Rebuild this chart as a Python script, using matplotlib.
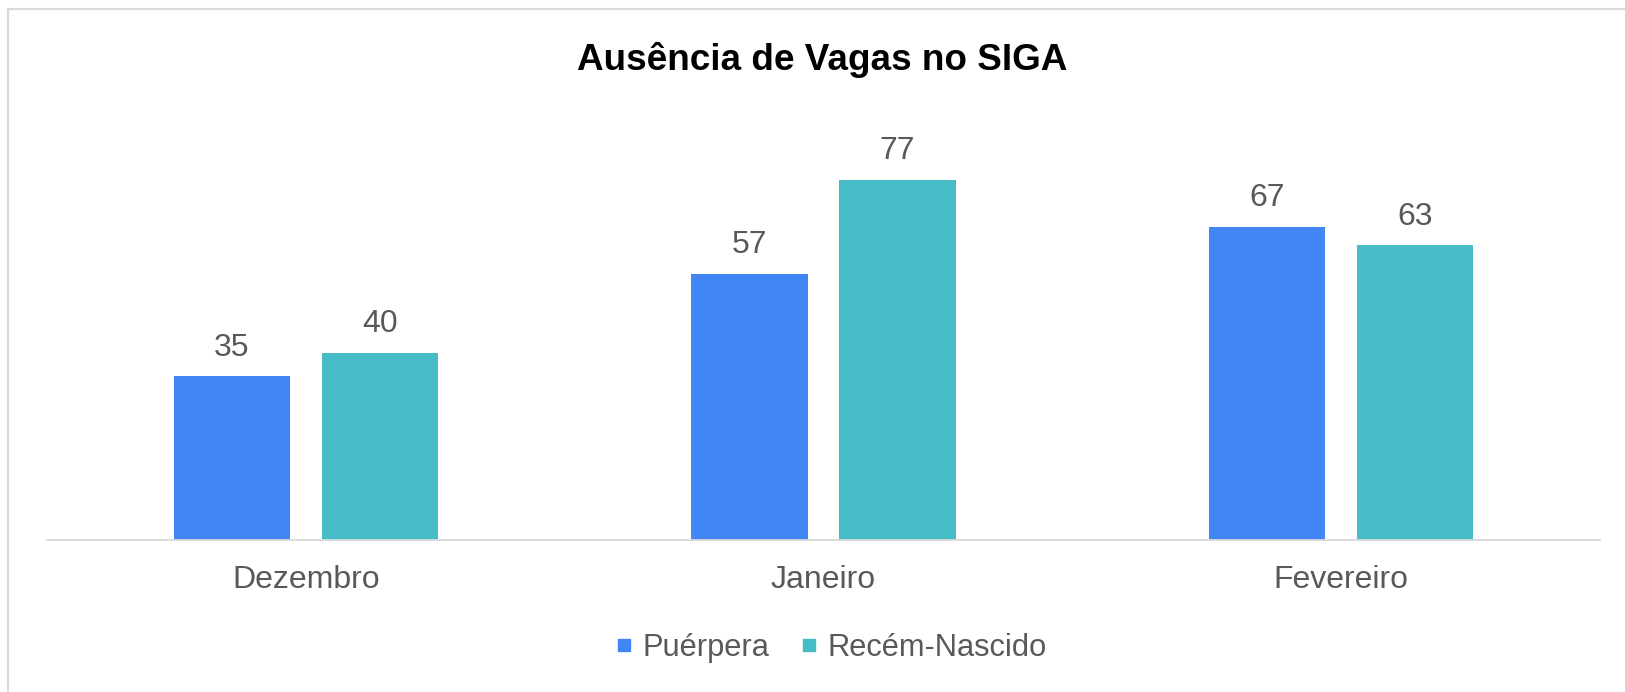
import numpy as np
import matplotlib
matplotlib.use("Agg")
import matplotlib.pyplot as plt
from matplotlib.patches import Rectangle
from matplotlib.lines import Line2D

plt.rcParams['font.family'] = ['Liberation Sans', 'DejaVu Sans']

categories = ["Dezembro", "Janeiro", "Fevereiro"]
series_names = ["Puérpera", "Recém-Nascido"]
puerpera = [35, 57, 67]
recem_nascido = [40, 77, 63]
colors = ["#4285F4", "#46BDC6"]
text_grey = "#595959"

W, H = 1625, 692


def main():
    fig = plt.figure(figsize=(W / 100, H / 100), dpi=100)
    fig.patch.set_facecolor("white")

    # moldura cinza clara do gráfico
    fig.patches.append(Rectangle((8 / W, -0.1), 2.0, (H - 9) / H + 0.1,
                                 transform=fig.transFigure, fill=False,
                                 edgecolor="#d9d9d9", linewidth=1.6))

    ax = fig.add_axes([47 / W, 152 / H, 1553 / W, 420.75 / H])
    x = np.arange(len(categories))
    width = 0.225
    offset = 0.143

    for vals, name, col, off in zip([puerpera, recem_nascido], series_names,
                                    colors, [-offset, offset]):
        bars = ax.bar(x + off, vals, width, color=col, label=name)
        for b, v in zip(bars, vals):
            ax.annotate(str(v), (b.get_x() + b.get_width() / 2, v),
                        xytext=(0, 15), textcoords="offset points",
                        ha="center", va="baseline", fontsize=23,
                        color=text_grey)

    ax.set_xlim(-0.5, len(categories) - 0.5)
    ax.set_ylim(0, 90)
    ax.set_yticks([])
    ax.set_xticks(x)
    ax.set_xticklabels(categories, fontsize=23, color=text_grey)
    ax.tick_params(axis="x", length=0, pad=18)
    for s in ["top", "right", "left"]:
        ax.spines[s].set_visible(False)
    ax.spines["bottom"].set_color("#d9d9d9")
    ax.spines["bottom"].set_linewidth(1.3)

    fig.text(822 / W, 1 - 60 / H, "Ausência de Vagas no SIGA",
             ha="center", va="center", fontsize=26.6, fontweight="bold",
             color="black")

    handles = [Line2D([], [], marker="s", linestyle="none", markersize=8.5,
                      markerfacecolor=c, markeredgecolor=c) for c in colors]
    fig.legend(handles, series_names, loc="center",
               bbox_to_anchor=(829 / W, 1 - 648 / H), ncol=2, frameon=False,
               fontsize=22.2, labelcolor=text_grey, handletextpad=0.2,
               columnspacing=0.9, handlelength=0.8)

    fig.savefig("out.png", dpi=100)


if __name__ == "__main__":
    main()
